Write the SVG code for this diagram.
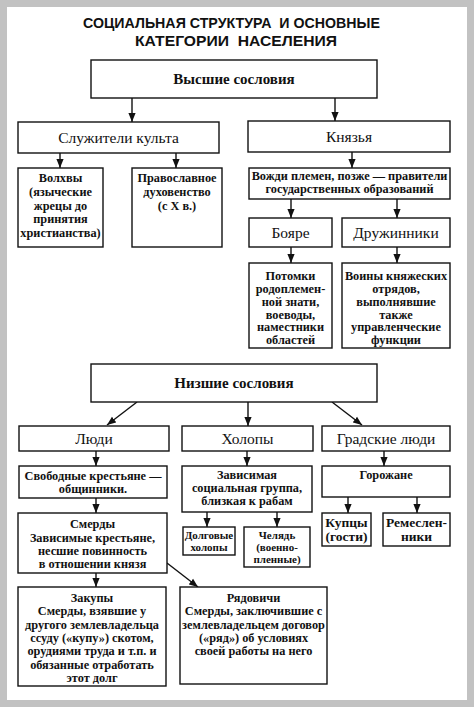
<svg xmlns="http://www.w3.org/2000/svg" width="474" height="707" viewBox="0 0 474 707">
<style>
.box{fill:#fff;stroke:#111;stroke-width:1.4}
.ttl{font-family:"Liberation Sans",Arial,sans-serif;font-weight:bold;font-size:15px;fill:#111;text-anchor:middle;white-space:pre}
.sf{font-family:"Liberation Serif","DejaVu Serif","Times New Roman",serif;fill:#111;text-anchor:middle}
.hb{font-weight:bold;font-size:15px}
.h{font-size:15.5px}
.t{font-weight:bold;font-size:12.3px}
.s{font-weight:bold;font-size:11px}
.m{font-weight:bold;font-size:13.5px}
.c{stroke:#111;stroke-width:1.4;fill:none;marker-end:url(#ah)}
</style>
<defs>
<marker id="ah" viewBox="0 0 10 10" refX="10" refY="5" markerWidth="9" markerHeight="9" markerUnits="userSpaceOnUse" orient="auto">
<path d="M0,1 L10,5 L0,9 z" fill="#111"/>
</marker>
</defs>
<rect x="0" y="0" width="474" height="707" fill="#c2c2c2"/>
<rect x="7" y="7" width="460" height="693" fill="#fff"/>
<g id="title">
<text class="ttl" x="231.5" y="28" textLength="297" lengthAdjust="spacingAndGlyphs">СОЦИАЛЬНАЯ СТРУКТУРА  И ОСНОВНЫЕ</text>
<text class="ttl" x="236" y="46" textLength="202" lengthAdjust="spacingAndGlyphs">КАТЕГОРИИ  НАСЕЛЕНИЯ</text>
</g>
<g id="connectors">
<line class="c" x1="132" y1="98" x2="132" y2="122"/>
<line class="c" x1="335" y1="98" x2="335" y2="121"/>
<line class="c" x1="60" y1="153" x2="60" y2="168"/>
<line class="c" x1="176" y1="153" x2="176" y2="168"/>
<line class="c" x1="352" y1="152" x2="352" y2="168"/>
<line class="c" x1="291" y1="199" x2="291" y2="218"/>
<line class="c" x1="397" y1="199" x2="397" y2="218"/>
<line class="c" x1="291" y1="247" x2="291" y2="263"/>
<line class="c" x1="397" y1="247" x2="397" y2="263"/>
<line class="c" x1="137" y1="402" x2="107" y2="425"/>
<line class="c" x1="248" y1="402" x2="248" y2="426"/>
<line class="c" x1="332" y1="402" x2="362" y2="425"/>
<line class="c" x1="96" y1="451" x2="96" y2="466"/>
<line class="c" x1="247" y1="451" x2="247" y2="466"/>
<line class="c" x1="384" y1="451" x2="384" y2="466"/>
<line class="c" x1="96" y1="498" x2="96" y2="513"/>
<line class="c" x1="207" y1="512" x2="207" y2="527"/>
<line class="c" x1="277" y1="512" x2="277" y2="527"/>
<line class="c" x1="348" y1="497" x2="348" y2="513"/>
<line class="c" x1="417" y1="497" x2="417" y2="513"/>
<line class="c" x1="96" y1="573" x2="96" y2="587"/>
<line class="c" x1="167" y1="563" x2="198" y2="587"/>
</g>
<g id="vysshie" class="sf">
<rect class="box" x="91" y="60" width="286" height="38"/>
<text class="hb" x="234" y="84">Высшие сословия</text>
</g>
<g id="sluzhiteli" class="sf">
<rect class="box" x="18" y="122" width="201" height="31"/>
<text class="h" x="118.5" y="143">Служители культа</text>
</g>
<g id="knyazya" class="sf">
<rect class="box" x="248" y="121" width="202" height="31"/>
<text class="h" x="349" y="142">Князья</text>
</g>
<g id="volkhvy" class="sf">
<rect class="box" x="18" y="168" width="85" height="79"/>
<text class="t" x="60.5" y="182">Волхвы</text>
<text class="t" x="60.5" y="196">(языческие</text>
<text class="t" x="60.5" y="210">жрецы до</text>
<text class="t" x="60.5" y="223">принятия</text>
<text class="t" x="60.5" y="237">христианства)</text>
</g>
<g id="pravoslavnoe" class="sf">
<rect class="box" x="132" y="168" width="90" height="79"/>
<text class="t" x="177" y="182">Православное</text>
<text class="t" x="177" y="196">духовенство</text>
<text class="t" x="177" y="210">(с X в.)</text>
</g>
<g id="vozhdi" class="sf">
<rect class="box" x="249" y="168" width="201" height="31"/>
<text class="t" x="349.5" y="180">Вожди племен, позже — правители</text>
<text class="t" x="349.5" y="193">государственных образований</text>
</g>
<g id="boyare" class="sf">
<rect class="box" x="249" y="218" width="83" height="29"/>
<text class="h" x="290.5" y="238">Бояре</text>
</g>
<g id="druzhinniki" class="sf">
<rect class="box" x="342" y="218" width="108" height="29"/>
<text class="h" x="396" y="238">Дружинники</text>
</g>
<g id="potomki" class="sf">
<rect class="box" x="249" y="263" width="83" height="85"/>
<text class="t" x="290.5" y="280">Потомки</text>
<text class="t" x="290.5" y="293">родоплемен-</text>
<text class="t" x="290.5" y="306">ной знати,</text>
<text class="t" x="290.5" y="318.5">воеводы,</text>
<text class="t" x="290.5" y="331">наместники</text>
<text class="t" x="290.5" y="344">областей</text>
</g>
<g id="voiny" class="sf">
<rect class="box" x="342" y="263" width="108" height="85"/>
<text class="t" x="396" y="280">Воины княжеских</text>
<text class="t" x="396" y="293">отрядов,</text>
<text class="t" x="396" y="306">выполнявшие</text>
<text class="t" x="396" y="318.5">также</text>
<text class="t" x="396" y="331">управленческие</text>
<text class="t" x="396" y="344">функции</text>
</g>
<g id="nizshie" class="sf">
<rect class="box" x="91" y="364" width="286" height="38"/>
<text class="hb" x="234" y="388">Низшие сословия</text>
</g>
<g id="lyudi" class="sf">
<rect class="box" x="19" y="426" width="150" height="25"/>
<text class="h" x="94" y="444">Люди</text>
</g>
<g id="kholopy" class="sf">
<rect class="box" x="182" y="426" width="131" height="25"/>
<text class="h" x="247.5" y="444">Холопы</text>
</g>
<g id="gradskie" class="sf">
<rect class="box" x="322" y="426" width="128" height="25"/>
<text class="h" x="386" y="444">Градские люди</text>
</g>
<g id="svobodnye" class="sf">
<rect class="box" x="19" y="466" width="148" height="32"/>
<text class="t" x="93" y="480">Свободные крестьяне —</text>
<text class="t" x="93" y="493">общинники.</text>
</g>
<g id="zavisimaya" class="sf">
<rect class="box" x="182" y="466" width="130" height="46"/>
<text class="t" x="247" y="479">Зависимая</text>
<text class="t" x="247" y="492">социальная группа,</text>
<text class="t" x="247" y="505">близкая к рабам</text>
</g>
<g id="gorozhane" class="sf">
<rect class="box" x="322" y="466" width="128" height="31"/>
<text class="t" x="386" y="479">Горожане</text>
</g>
<g id="dolgovye" class="sf">
<rect class="box" x="183" y="527" width="52" height="28"/>
<text class="s" x="209" y="539">Долговые</text>
<text class="s" x="209" y="551">холопы</text>
</g>
<g id="chelyad" class="sf">
<rect class="box" x="244" y="527" width="66" height="40"/>
<text class="s" x="277" y="539">Челядь</text>
<text class="s" x="277" y="551">(военно-</text>
<text class="s" x="277" y="563">пленные)</text>
</g>
<g id="kuptsy" class="sf">
<rect class="box" x="322" y="513" width="49" height="33"/>
<text class="m" x="346.5" y="527">Купцы</text>
<text class="m" x="346.5" y="541">(гости)</text>
</g>
<g id="remeslenniki" class="sf">
<rect class="box" x="383" y="513" width="67" height="33"/>
<text class="m" x="416.5" y="527">Ремеслен-</text>
<text class="m" x="416.5" y="541">ники</text>
</g>
<g id="smerdy" class="sf">
<rect class="box" x="18" y="513" width="149" height="60"/>
<text class="t" x="92.5" y="528">Смерды</text>
<text class="t" x="92.5" y="541.5">Зависимые крестьяне,</text>
<text class="t" x="92.5" y="554.5">несшие повинность</text>
<text class="t" x="92.5" y="567.5">в отношении князя</text>
</g>
<g id="zakupy" class="sf">
<rect class="box" x="18" y="587" width="148" height="99"/>
<text class="t" x="92" y="602">Закупы</text>
<text class="t" x="92" y="615">Смерды, взявшие у</text>
<text class="t" x="92" y="628.5">другого землевладельца</text>
<text class="t" x="92" y="642">ссуду («купу») скотом,</text>
<text class="t" x="92" y="655">орудиями труда и т.п. и</text>
<text class="t" x="92" y="668.5">обязанные отработать</text>
<text class="t" x="92" y="682">этот долг</text>
</g>
<g id="ryadovichi" class="sf">
<rect class="box" x="180" y="587" width="147" height="97"/>
<text class="t" x="253.5" y="602">Рядовичи</text>
<text class="t" x="253.5" y="615">Смерды, заключившие с</text>
<text class="t" x="253.5" y="628.5">землевладельцем договор</text>
<text class="t" x="253.5" y="642">(«ряд») об условиях</text>
<text class="t" x="253.5" y="655">своей работы на него</text>
</g>
</svg>
